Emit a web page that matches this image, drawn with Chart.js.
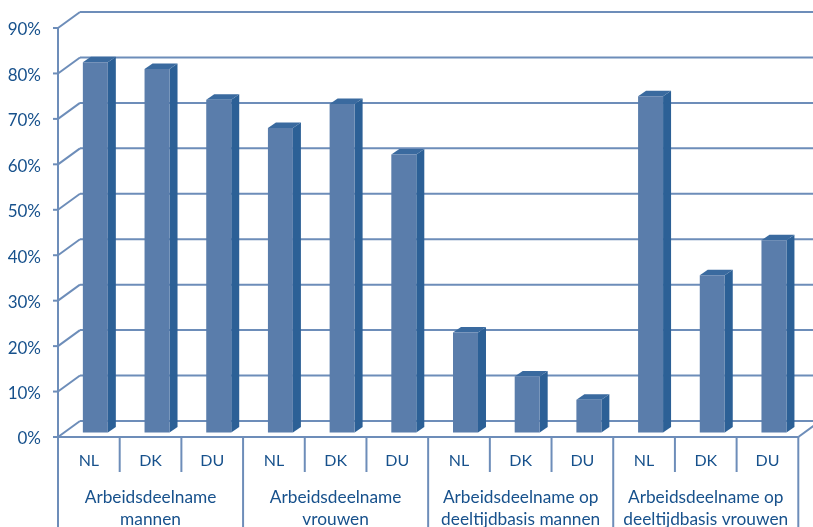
<!DOCTYPE html>
<html>
<head>
<meta charset="utf-8">
<style>
html,body{margin:0;padding:0;background:#fff;overflow:hidden}
#wrap{width:813px;height:527px}
</style>
<script src="https://cdn.jsdelivr.net/npm/chart.js@4"></script>
</head>
<body>
<div id="wrap"><canvas id="chart" width="813" height="527"></canvas></div>
<script>
const countries = ['NL','DK','DU','NL','DK','DU','NL','DK','DU','NL','DK','DU'];
const values = [81.5,80,73.2,67,72.3,61.2,22,12.3,7.2,74,34.6,42.3];
const groupLabels = [
    ['Arbeidsdeelname','mannen'],
    ['Arbeidsdeelname','vrouwen'],
    ['Arbeidsdeelname op','deeltijdbasis mannen'],
    ['Arbeidsdeelname op','deeltijdbasis vrouwen']
];

const lineColor = '#6d8db9';
const textColor = '#17518c';
const fontName = 'Lato';

// depth of the fake 3d box
const wallX = 22, wallY = -16;
// depth of the bars inside the box
const barX = 6.5, barY = -4.5;
const sideX = 8, sideY = -5.5;

const strokeLine = (ctx, x1, y1, x2, y2) => {
    ctx.beginPath();
    ctx.moveTo(x1, y1);
    ctx.lineTo(x2, y2);
    ctx.stroke();
}

const box3d = {
    id: 'box3d',
    beforeDatasetsDraw(chart) {
        const ctx = chart.ctx;
        const {left, right, bottom} = chart.chartArea;
        const xs = chart.scales.x;
        const ys = chart.scales.y;

        ctx.save();
        ctx.strokeStyle = lineColor;
        ctx.lineWidth = 2;
        ys.ticks.forEach(t => {
            const y = ys.getPixelForValue(t.value);
            strokeLine(ctx, left - 5, y, left, y);
            strokeLine(ctx, left, y, left + wallX, y + wallY);
            strokeLine(ctx, left + wallX, y + wallY, right + wallX, y + wallY);
        });
        strokeLine(ctx, left, ys.top, left, 527);
        strokeLine(ctx, left, bottom, right, bottom);
        strokeLine(ctx, right, bottom, right + wallX, bottom + wallY);

        // separators under the axis
        const step = (right - left) / countries.length;
        for (let i = 0; i <= countries.length; i++) {
            const x = left + i * step;
            strokeLine(ctx, x, bottom, x, i % 3 == 0 ? 527 : 472);
        }

        // group labels
        ctx.fillStyle = textColor;
        ctx.font = '17.3px ' + fontName;
        ctx.textAlign = 'center';
        ctx.textBaseline = 'middle';
        groupLabels.forEach((lines, i) => {
            const x = xs.getPixelForValue(i * 3 + 1);
            lines.forEach((s, j) => ctx.fillText(s, x, 497 + j * 22));
        });
        ctx.restore();

        // side and top faces, then the library draws the front face in the same offset
        ctx.save();
        ctx.translate(barX, barY);
        chart.getDatasetMeta(0).data.forEach(bar => {
            const l = bar.x - bar.width / 2;
            const r = bar.x + bar.width / 2;
            ctx.fillStyle = '#2c6096';
            ctx.beginPath();
            ctx.moveTo(r, bar.y);
            ctx.lineTo(r + sideX, bar.y + sideY);
            ctx.lineTo(r + sideX, bar.base + sideY);
            ctx.lineTo(r, bar.base);
            ctx.closePath();
            ctx.fill();
            ctx.fillStyle = '#3a6a9f';
            ctx.beginPath();
            ctx.moveTo(l, bar.y);
            ctx.lineTo(l + sideX, bar.y + sideY);
            ctx.lineTo(r + sideX, bar.y + sideY);
            ctx.lineTo(r, bar.y);
            ctx.closePath();
            ctx.fill();
        });
    },
    afterDatasetsDraw(chart) {
        chart.ctx.restore();
    }
};

new Chart(document.getElementById('chart').getContext('2d'), {
    type: 'bar',
    data: {
        labels: countries,
        datasets: [{
            data: values,
            backgroundColor: '#5a7dab',
            borderWidth: 0,
            barPercentage: 0.405,
            categoryPercentage: 1,
            clip: false
        }]
    },
    options: {
        responsive: false,
        animation: false,
        layout: {padding: {top: 28, right: 14.7, left: 0, bottom: 0}},
        plugins: {legend: {display: false}, tooltip: {enabled: false}},
        scales: {
            x: {
                grid: {display: false},
                border: {display: false},
                afterFit: s => { s.height = 90 },
                ticks: {
                    color: textColor,
                    font: {family: fontName, size: 16},
                    padding: 6,
                    autoSkip: false,
                    maxRotation: 0
                }
            },
            y: {
                min: 0,
                max: 90,
                grid: {display: false},
                border: {display: false},
                afterFit: s => { s.width = 58 },
                ticks: {
                    stepSize: 10,
                    color: textColor,
                    font: {family: fontName, size: 17},
                    padding: 9,
                    labelOffset: 2,
                    callback: v => v + '%'
                }
            }
        }
    },
    plugins: [box3d]
});
</script>
</body>
</html>
